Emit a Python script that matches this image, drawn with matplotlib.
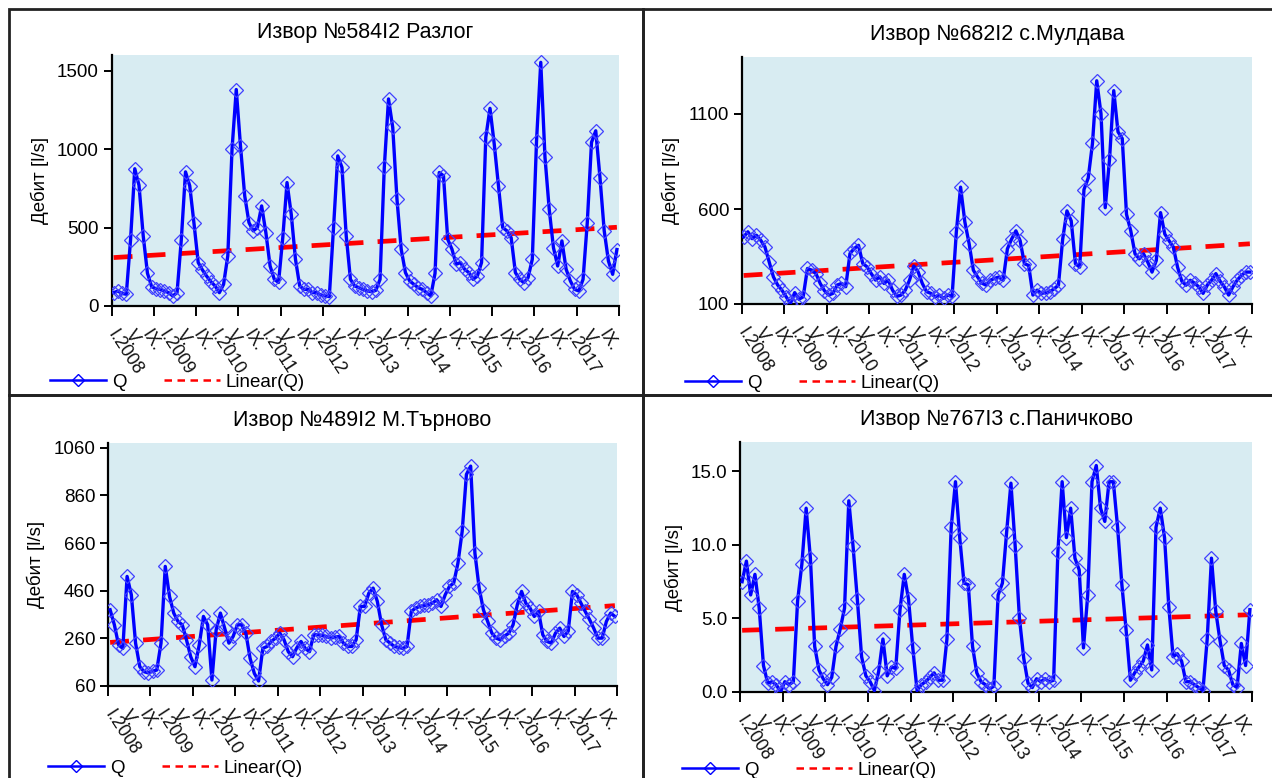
import numpy as np
import matplotlib
matplotlib.use('Agg')
import matplotlib.pyplot as plt
from matplotlib.lines import Line2D
from matplotlib.patches import Rectangle

plt.rcParams['font.family'] = ['Liberation Sans', 'DejaVu Sans']

# месечни данни I.2008 - XII.2017
years = list(range(2008, 2018))
month_marks = ['I', 'V', 'IX']          # надпис на всеки 4 месеца
ylabel = 'Дебит [l/s]'

titles = ['Извор №584I2 Разлог', 'Извор №682I2 с.Мулдава',
          'Извор №489I2 М.Търново', 'Извор №767I3 с.Паничково']

q_razlog = [
    85, 95, 80, 75, 420, 875, 770, 447, 209, 123, 110, 105,
    96, 85, 64, 85, 421, 855, 766, 528, 277, 230, 190, 155,
    128, 85, 138, 320, 1000, 1380, 1020, 702, 532, 479, 500, 638,
    468, 255, 170, 150, 436, 787, 585, 298, 128, 106, 106, 85,
    85, 70, 64, 60, 500, 957, 883, 447, 170, 128, 117, 106,
    96, 91, 100, 170, 883, 1320, 1138, 681, 362, 213, 160, 138,
    117, 106, 85, 64, 208, 851, 830, 425, 362, 266, 277, 234,
    213, 170, 191, 277, 1075, 1260, 1032, 766, 500, 479, 436, 213,
    170, 149, 181, 298, 1053, 1553, 947, 617, 372, 255, 415, 234,
    160, 106, 96, 170, 532, 1043, 1117, 819, 480, 287, 202, 360,
]

q_muldava = [
    453, 480, 444, 462, 436, 401, 322, 243, 200, 173, 138, 103,
    160, 125, 138, 287, 278, 260, 208, 170, 147, 156, 200, 208,
    191, 366, 392, 409, 313, 296, 260, 226, 243, 208, 226, 173,
    140, 147, 173, 226, 300, 270, 208, 165, 156, 138, 147, 130,
    147, 140, 479, 715, 532, 418, 278, 242, 210, 199, 225, 235,
    242, 225, 390, 442, 485, 433, 312, 303, 147, 173, 156, 160,
    165, 180, 199, 442, 590, 538, 312, 294, 702, 763, 945, 1275,
    1102, 607, 859, 1223, 1006, 971, 572, 485, 364, 338, 364, 320,
    268, 329, 581, 468, 433, 400, 294, 220, 199, 225, 210, 190,
    156, 200, 225, 260, 220, 190, 147, 190, 225, 250, 268, 268,
]

q_tarnovo = [
    380, 317, 232, 218, 520, 443, 240, 141, 120, 115, 122, 127,
    240, 562, 436, 366, 331, 317, 254, 183, 141, 232, 352, 317,
    85, 296, 366, 303, 240, 268, 317, 317, 282, 176, 113, 81,
    218, 226, 247, 261, 282, 254, 204, 183, 220, 247, 218, 204,
    275, 275, 272, 268, 261, 265, 268, 240, 226, 226, 254, 394,
    394, 450, 471, 415, 317, 254, 240, 226, 222, 218, 226, 373,
    387, 394, 398, 401, 408, 422, 394, 443, 478, 492, 576, 709,
    948, 983, 618, 471, 380, 331, 282, 261, 254, 270, 282, 317,
    401, 457, 408, 387, 352, 373, 275, 247, 240, 282, 303, 268,
    290, 457, 443, 408, 373, 340, 303, 261, 261, 331, 366, 352,
]

q_panichkovo = [
    7.5, 8.9, 6.6, 8.0, 5.7, 1.8, 0.6, 0.7, 0.5, 0.0, 0.7, 0.5,
    0.7, 6.2, 8.7, 12.5, 9.1, 3.1, 1.5, 0.9, 0.5, 1.0, 3.1, 4.3,
    5.7, 13.0, 9.9, 6.3, 2.4, 1.1, 0.7, 0.1, 1.4, 3.6, 1.1, 1.7,
    1.6, 5.6, 8.0, 6.3, 3.0, 0.1, 0.5, 0.7, 1.0, 1.3, 0.8, 0.8,
    3.6, 11.2, 14.3, 10.5, 7.4, 7.3, 3.1, 1.3, 0.7, 0.5, 0.2, 0.4,
    6.6, 7.4, 10.9, 14.2, 9.9, 5.0, 2.3, 0.6, 0.3, 0.9, 0.7, 0.9,
    0.7, 0.8, 9.5, 14.3, 10.5, 12.5, 9.1, 8.3, 3.0, 6.6, 14.3, 15.4,
    12.5, 11.6, 14.3, 14.3, 11.2, 7.3, 4.2, 0.8, 1.3, 1.7, 2.1, 3.2,
    1.5, 11.2, 12.5, 10.5, 5.8, 2.4, 2.6, 2.1, 0.7, 0.7, 0.5, 0.3,
    0.1, 3.6, 9.1, 5.5, 3.5, 1.8, 1.5, 0.5, 0.3, 3.3, 1.8, 5.6,
]

y_limits = [(0, 1600), (100, 1400), (60, 1080), (0, 17)]
y_ticks = [[0, 500, 1000, 1500], [100, 600, 1100],
           [60, 260, 460, 660, 860, 1060], [0, 5, 10, 15]]
y_formats = ['{:.0f}', '{:.0f}', '{:.0f}', '{:.1f}']
series = [q_razlog, q_muldava, q_tarnovo, q_panichkovo]

# подредба в пиксели: (x0, y0, x1, y1) на графичната област, рамка, легенда
W, H = 1272, 778
plot_px = [(111.5, 55, 619, 306), (741.5, 57, 1252, 304),
           (108, 443, 617, 686), (740, 442, 1252, 692)]
frame_px = [(9, 9, 643, 395), (643, 9, 1280, 395),
            (9, 395, 643, 790), (643, 395, 1280, 790)]
legend_px = [(50, 382), (685, 383), (48, 768), (682, 770)]

BLUE = '#0000ff'
RED = '#ff0000'
BG = '#d8ecf2'

fig = plt.figure(figsize=(W / 100, H / 100), dpi=100)

for (x0, y0, x1, y1) in frame_px:
    fig.patches.append(Rectangle((x0 / W, 1 - y1 / H), (x1 - x0) / W, (y1 - y0) / H,
                                 transform=fig.transFigure, fill=False,
                                 edgecolor='#222222', linewidth=2))

n = len(q_razlog)
x = np.arange(n) + 0.5

labels = []
for yr in years:
    for k, m in enumerate(month_marks):
        labels.append(f'{m}.{yr}' if k == 0 else f'{m}.')
label_pos = np.arange(0, n, 4) + 0.5

for i in range(4):
    x0, y0, x1, y1 = plot_px[i]
    ax = fig.add_axes([x0 / W, 1 - y1 / H, (x1 - x0) / W, (y1 - y0) / H])
    ax.set_facecolor(BG)
    q = np.array(series[i], dtype=float)

    # линеен тренд (най-малки квадрати)
    k, b = np.polyfit(x, q, 1)
    ax.plot(x, k * x + b, color=RED, lw=3.4, dashes=(4, 3), zorder=2)

    ax.plot(x, q, color=BLUE, lw=2.4, marker='D', ms=7, mfc='none',
            mec='#4040ff', mew=0.9, zorder=3)

    ax.set_xlim(0, n)
    ax.set_ylim(*y_limits[i])
    ax.set_yticks(y_ticks[i])
    ax.set_yticklabels([y_formats[i].format(v) for v in y_ticks[i]], fontsize=13.5)
    ax.set_xticks(np.arange(0, n + 1, 10))
    ax.set_xticklabels([])
    for s in ['top', 'right']:
        ax.spines[s].set_visible(False)
    for s in ['left', 'bottom']:
        ax.spines[s].set_linewidth(1.6)
        ax.spines[s].set_color('black')
    ax.tick_params(axis='y', direction='out', length=6, width=1.4, pad=3)
    ax.tick_params(axis='x', direction='out', length=7, width=1.4)

    for lbl, p in zip(labels, label_pos):
        ax.annotate(lbl, xy=(p, 0), xycoords=('data', 'axes fraction'),
                    xytext=(-2, -26), textcoords='offset pixels',
                    rotation=-57, rotation_mode='anchor', ha='left', va='center',
                    fontsize=13, color='#111111')

    ax.set_ylabel(ylabel, fontsize=13.5, labelpad=6)
    ax.set_title(titles[i], fontsize=15.5, pad=12)

    handles = [Line2D([], [], color=BLUE, lw=1.8, marker='D', ms=6.5, mfc='none',
                      mec=BLUE, mew=1),
               Line2D([], [], color=RED, lw=1.8, dashes=(3, 2.2))]
    lx, ly = legend_px[i]
    ax.legend(handles, ['Q', 'Linear(Q)'], loc='center left', ncol=2,
              bbox_to_anchor=(lx / W, 1 - ly / H), bbox_transform=fig.transFigure,
              frameon=False, numpoints=1, handlelength=3.0, handletextpad=0.3,
              columnspacing=2.0, borderpad=0, borderaxespad=0, fontsize=13.5)

fig.savefig('out.png', dpi=100)
